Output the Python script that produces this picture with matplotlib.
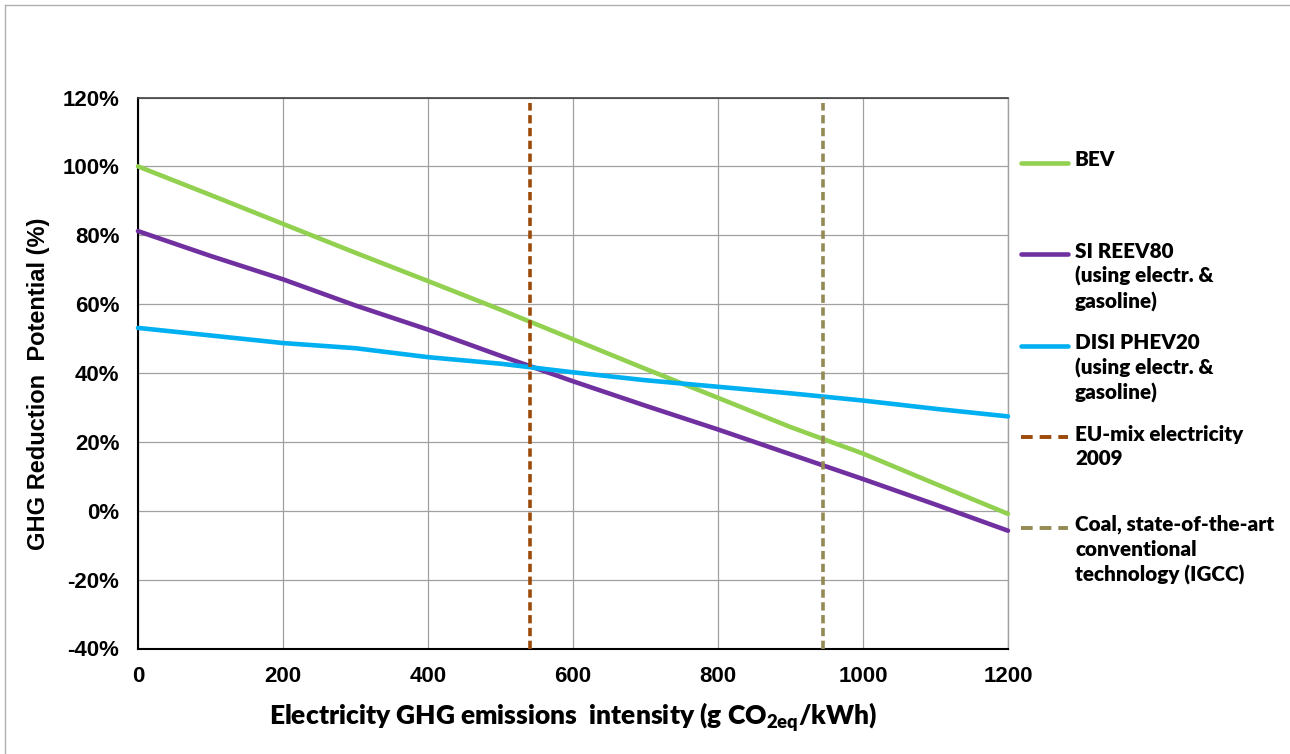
import matplotlib
matplotlib.use("Agg")
import matplotlib.pyplot as plt
from matplotlib.lines import Line2D

# electricity intensity (g CO2eq/kWh)
intensity = [0, 100, 200, 300, 400, 500, 600, 700, 800, 900, 1000, 1100, 1200]
# GHG reduction potential (%)
bev = [100, 91.7, 83.3, 74.9, 66.7, 58.4, 49.8, 41.2, 32.8, 24.3, 16.6, 7.8, -0.9]
si_reev80 = [81.2, 74.0, 67.2, 59.6, 52.6, 45.0, 37.6, 30.5, 23.6, 16.4, 9.2, 1.8, -5.8]
disi_phev20 = [53.1, 50.9, 48.7, 47.2, 44.6, 42.7, 40.2, 37.9, 36.0, 34.1, 32.0, 29.6, 27.4]

eu_mix_2009 = 540
coal_igcc = 945
marker_span = [-40, 118.5]

x_ticks = [0, 200, 400, 600, 800, 1000, 1200]
y_ticks = [-40, -20, 0, 20, 40, 60, 80, 100, 120]

labels = ["BEV",
          "SI REEV80\n(using electr. &\ngasoline)",
          "DISI PHEV20\n(using electr. &\ngasoline)",
          "EU-mix electricity\n2009",
          "Coal, state-of-the-art\nconventional\ntechnology (IGCC)"]
colors = ["#92D050", "#7030A0", "#00B0F0", "#9C4A0A", "#948A54"]

W, H = 1290, 754
fig = plt.figure(figsize=(W / 100, H / 100), dpi=100)
ax = fig.add_axes([138 / W, 1 - 648.5 / H, 870 / W, 551 / H])

lw = 3.3
ax.plot(intensity, bev, color=colors[0], lw=lw, solid_capstyle="round", zorder=3, clip_on=False)
ax.plot(intensity, si_reev80, color=colors[1], lw=lw, solid_capstyle="round", zorder=3, clip_on=False)
ax.plot(intensity, disi_phev20, color=colors[2], lw=lw, solid_capstyle="round", zorder=3, clip_on=False)

dash = (2.3, 1.25)
ax.plot([eu_mix_2009] * 2, marker_span, color=colors[3], lw=2.6, dashes=dash, zorder=4)
ax.plot([coal_igcc] * 2, marker_span, color=colors[4], lw=2.6, dashes=dash, zorder=4)

ax.set_xlim(0, 1200)
ax.set_ylim(-40, 120)
ax.set_xticks(x_ticks)
ax.set_yticks(y_ticks)
ax.set_yticklabels([f"{v}%" for v in y_ticks])
ax.grid(True, color="#a0a0a0", lw=0.9)
ax.set_axisbelow(True)
ax.tick_params(length=0)
ax.tick_params(axis="y", pad=13.5)
ax.tick_params(axis="x", pad=12.5)
for lab in ax.get_xticklabels() + ax.get_yticklabels():
    lab.set_fontfamily("Liberation Sans")
    lab.set_fontweight("bold")
    lab.set_fontsize(16)

for side in ["left", "bottom"]:
    ax.spines[side].set_color("black")
    ax.spines[side].set_linewidth(1.5)
ax.spines["top"].set_color("#404040")
ax.spines["top"].set_linewidth(1.2)
ax.spines["right"].set_color("#a0a0a0")
ax.spines["right"].set_linewidth(1.0)

ax.set_xlabel("Electricity GHG emissions  intensity (g CO$_{\\mathregular{2eq}}$/kWh)",
              fontfamily="Lato", fontweight="heavy", fontsize=19, va="center")
ax.xaxis.set_label_coords(0.5, -(717 - 648.5) / 551)
ax.set_ylabel("GHG Reduction  Potential (%)", fontfamily="Liberation Sans",
              fontweight="bold", fontsize=17, va="center")
ax.yaxis.set_label_coords((39 - 138) / 870, 0.481)

# legend, drawn outside the plot area
handle_y = [163, 254, 345.5, 437, 527.5]
for lab, col, hy, ls in zip(labels, colors, handle_y,
                            ["-", "-", "-", "--", "--"]):
    ln = Line2D([1021 / W, 1068 / W], [1 - hy / H] * 2, transform=fig.transFigure,
                color=col, lw=lw if ls == "-" else 2.8, solid_capstyle="round")
    if ls == "--":
        ln.set_dashes((3.0, 1.8))
    fig.add_artist(ln)
    fig.text(1075 / W, 1 - (hy - 12.5) / H, lab, fontfamily="Lato", fontweight="heavy",
             fontsize=14.9, va="top", ha="left", linespacing=1.34)

# chart area border
fig.add_artist(Line2D([5 / W, 5 / W], [1 - 5 / H, 0], transform=fig.transFigure,
                      color="#b0b0b0", lw=1.0))
fig.add_artist(Line2D([5 / W, 1], [1 - 5 / H, 1 - 5 / H], transform=fig.transFigure,
                      color="#b0b0b0", lw=1.0))

fig.savefig("out.png", dpi=100)
